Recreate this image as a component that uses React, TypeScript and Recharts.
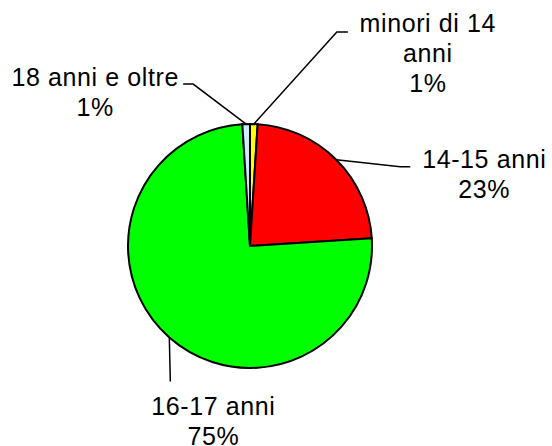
import { PieChart, Pie, Cell } from "recharts";

const categories = ["minori di 14 anni", "14-15 anni", "16-17 anni", "18 anni e oltre"];
const values = [1, 23, 75, 1];
const percentLabels = ["1%", "23%", "75%", "1%"];
const labelLines = [["minori di 14", "anni", "1%"], ["14-15 anni", "23%"], ["16-17 anni", "75%"], ["18 anni e oltre", "1%"]];
const colors = ["#FFFF00", "#FF0000", "#00FF00", "#CCECFF"];

// leader layout, offsets from the point on the rim: elbow, end, text anchor
const leaderLayout = [
  { elbow: [83, -92], end: [94, -92], text: [174, -92] },
  { elbow: [64, 7], end: [74, 7], text: [148, 8] },
  { elbow: [1, 44], end: [1, 44], text: [44, 77] },
  { elbow: [-53, -40], end: [-63, -40], text: [-151, -38] },
];

const data = categories.map((name, i) => ({ name, value: values[i], pct: percentLabels[i] }));

const RAD = Math.PI / 180;

function renderLabel(props: any) {
  const { cx, cy, midAngle, outerRadius, index } = props;
  const sx = cx + outerRadius * Math.cos(-midAngle * RAD);
  const sy = cy + outerRadius * Math.sin(-midAngle * RAD);
  const l = leaderLayout[index];
  const ex = sx + l.elbow[0];
  const ey = sy + l.elbow[1];
  const fx = sx + l.end[0];
  const fy = sy + l.end[1];
  const tx = sx + l.text[0];
  const ty = sy + l.text[1];
  return (
    <g key={"lbl" + index}>
      <polyline
        points={`${sx},${sy} ${ex},${ey} ${fx},${fy}`}
        fill="none"
        stroke="#000"
        strokeWidth={1.5}
      />
      <text
        x={tx}
        y={ty}
        textAnchor="middle"
        fill="#000"
        style={{ fontFamily: "'Liberation Sans', Arial, sans-serif", fontSize: 25, letterSpacing: 0.6 }}
      >
        {labelLines[index].map((t, j) => (
          <tspan key={j} x={tx} dy={j === 0 ? 0 : 30}>
            {t}
          </tspan>
        ))}
      </text>
    </g>
  );
}

export default function App() {
  return (
    <div style={{ position: "absolute", left: 0, top: 0, background: "#fff" }}>
      <PieChart width={552} height={446} margin={{ top: 0, right: 0, bottom: 0, left: 0 }}>
        <Pie
          data={data}
          dataKey="value"
          nameKey="name"
          cx={250}
          cy={246}
          outerRadius={122}
          startAngle={90}
          endAngle={-270}
          stroke="#000"
          strokeWidth={2}
          label={renderLabel}
          labelLine={false}
          isAnimationActive={false}
        >
          {data.map((d, i) => (
            <Cell key={d.name} fill={colors[i]} />
          ))}
        </Pie>
      </PieChart>
    </div>
  );
}
